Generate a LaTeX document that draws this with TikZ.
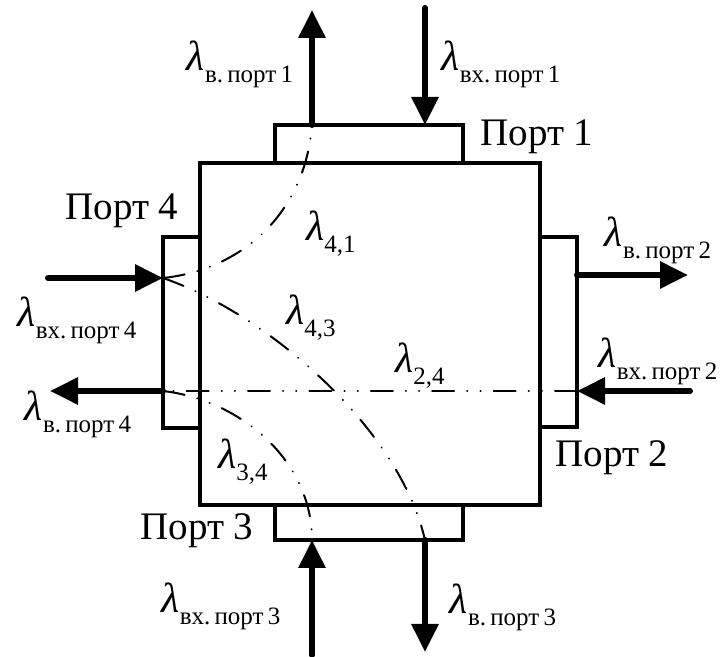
\documentclass[tikz,border=0pt]{standalone}
\usepackage{fontspec}
\setmainfont{Liberation Serif}
\usetikzlibrary{arrows.meta}
\newcommand{\lam}[1]{{\fontsize{21}{24}\selectfont\itshape λ}\raisebox{-6pt}{\fontsize{12.5}{14}\selectfont #1}}
\tikzset{
  body/.style={line width=2pt, line join=miter},
  flow/.style={line width=3pt, line cap=round, -{Triangle[length=14pt,width=13pt]}},
  route/.style={line width=1pt, line cap=round, dash pattern=on 11pt off 6.5pt on 0.1pt off 6.5pt on 0.1pt off 6.5pt},
  lbl/.style={inner sep=0pt, font=\fontsize{19.5}{22}\selectfont},
}

\begin{document}
\begin{tikzpicture}[x=0.5pt,y=-0.5pt]
    \useasboundingbox (0,0) rectangle (725,657);
    % device and its four ports
    \draw[body] (200,163) rectangle (540,505);
    \draw[body] (275,125) rectangle (463,163);
    \draw[body] (540,237) rectangle (577,427);
    \draw[body] (275,505) rectangle (463,540);
    \draw[body] (163,237) rectangle (200,428);
    % ends of the flows
    \coordinate (p1out) at (312,125); \coordinate (p1top) at (312,10);
    \coordinate (p1src) at (425,8);   \coordinate (p1in) at (425,125);
    \coordinate (p2out) at (577,275); \coordinate (p2end) at (688,275);
    \coordinate (p2src) at (690,391); \coordinate (p2in) at (577,391);
    \coordinate (p3src) at (312,655); \coordinate (p3in) at (312,540);
    \coordinate (p3out) at (425,540); \coordinate (p3bot) at (425,652);
    \coordinate (p4src) at (48,278);  \coordinate (p4in) at (163,278);
    \coordinate (p4out) at (163,391); \coordinate (p4end) at (50,391);
    \draw[flow] (p1out)--(p1top);
    \draw[flow] (p1src)--(p1in);
    \draw[flow] (p2out)--(p2end);
    \draw[flow] (p2src)--(p2in);
    \draw[flow] (p3src)--(p3in);
    \draw[flow] (p3out)--(p3bot);
    \draw[flow] (p4src)--(p4in);
    \draw[flow] (p4out)--(p4end);
    % paths inside
    \draw[route] (p4in) .. controls (240,270) and (305,215) .. (p1out);
    \draw[route] (p4in) .. controls (270,315) and (400,430) .. (p3out);
    \draw[route] (p2in) -- (p4out);
    \draw[route] (p4out) .. controls (240,400) and (312,460) .. (p3in);
    % labels
    \node[lbl] (port1) at (537,137) {Порт 1};
    \node[lbl] (port2) at (612,458) {Порт 2};
    \node[lbl] (port3) at (197,531) {Порт 3};
    \node[lbl] (port4) at (122,211) {Порт 4};
    \node[inner sep=0pt] (lout1) at (240,64) {\lam{в.\,порт\,1}};
    \node[inner sep=0pt] (lin1) at (501,64) {\lam{вх.\,порт\,1}};
    \node[inner sep=0pt] (lout2) at (658,240) {\lam{в.\,порт\,2}};
    \node[inner sep=0pt] (lin2) at (658,361) {\lam{вх.\,порт\,2}};
    \node[inner sep=0pt] (lin3) at (221,606) {\lam{вх.\,порт\,3}};
    \node[inner sep=0pt] (lout3) at (503,607) {\lam{в.\,порт\,3}};
    \node[inner sep=0pt] (lin4) at (77,320) {\lam{вх.\,порт\,4}};
    \node[inner sep=0pt] (lout4) at (78,414) {\lam{в.\,порт\,4}};
    \node[inner sep=0pt] (l41) at (331,234) {\lam{4,1}};
    \node[inner sep=0pt] (l43) at (311,318) {\lam{4,3}};
    \node[inner sep=0pt] (l24) at (420,366) {\lam{2,4}};
    \node[inner sep=0pt] (l34) at (243,462) {\lam{3,4}};
\end{tikzpicture}
\end{document}
